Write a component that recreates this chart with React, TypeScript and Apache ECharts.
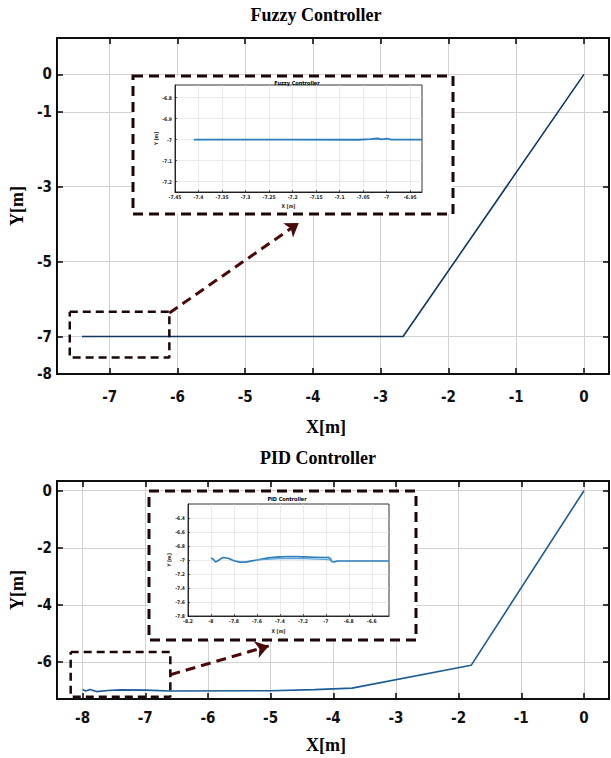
import React, { useEffect, useRef } from "react";
import * as echarts from "echarts";

// ---------- data ----------
const fuzzyPath: number[][] = [[-7.41, -7], [-2.67, -7], [0, 0]];
const fuzzyZoomPath: number[][] = [
  [-7.41, -7.0], [-7.2, -7.0], [-7.06, -7.001], [-7.035, -6.998], [-7.02, -6.995],
  [-7.01, -6.999], [-7.0, -6.996], [-6.99, -7.0], [-6.925, -7.0],
];
const pidPath: number[][] = [
  [-8.0, -6.97], [-7.95, -7.02], [-7.88, -6.97], [-7.78, -7.04], [-7.6, -7.0],
  [-7.4, -6.98], [-7.0, -6.99], [-6.6, -7.02], [-5.0, -7.01], [-4.3, -6.97],
  [-3.7, -6.92], [-1.8, -6.12], [0, 0],
];
const pidZoomPathA: number[][] = [
  [-8.0, -6.97], [-7.98, -6.99], [-7.96, -7.03], [-7.93, -7.0], [-7.9, -6.965],
  [-7.85, -6.975], [-7.8, -7.01], [-7.75, -7.03], [-7.7, -7.03], [-7.6, -7.0],
  [-7.5, -6.97], [-7.4, -6.955], [-7.3, -6.95], [-7.2, -6.955], [-7.1, -6.96],
  [-7.0, -6.965], [-6.98, -6.96], [-6.96, -6.99], [-6.95, -7.02], [-6.93, -7.03],
  [-6.9, -7.015], [-6.85, -7.015], [-6.45, -7.015],
];
const pidZoomPathB: number[][] = [
  [-7.6, -7.0], [-7.4, -6.98], [-7.2, -6.98], [-7.0, -6.99], [-6.97, -7.0],
  [-6.96, -6.97], [-6.94, -7.03],
];

const fuzzyXTicks = [-7, -6, -5, -4, -3, -2, -1, 0];
const fuzzyYTicks = [0, -1, -3, -5, -7];
const fuzzyYLabels = [0, -1, -3, -5, -7, -8];
const pidXTicks = [-8, -7, -6, -5, -4, -3, -2, -1, 0];
const pidYTicks = [0, -2, -4, -6];
const fuzzyInsetXTicks = [-7.45, -7.4, -7.35, -7.3, -7.25, -7.2, -7.15, -7.1, -7.05, -7, -6.95];
const fuzzyInsetYTicks = [-6.8, -6.9, -7, -7.1, -7.2];
const pidInsetXTicks = [-8.2, -8, -7.8, -7.6, -7.4, -7.2, -7, -6.8, -6.6];
const pidInsetYTicks = [-6.4, -6.6, -6.8, -7, -7.2, -7.4, -7.6, -7.8];

const fuzzyBox: number[][] = [[-7.59, -6.34], [-6.12, -7.56]];
const fuzzyArrow: number[][] = [[-6.12, -6.37], [-4.21, -3.97]];
const pidBox: number[][] = [[-8.19, -5.65], [-6.6, -7.22]];
const pidArrow: number[][] = [[-6.6, -6.45], [-5.03, -5.44]];

// ---------- styles ----------
const NARROW = "'Liberation Sans Narrow', 'DejaVu Sans Condensed', 'Liberation Sans', sans-serif";
const SERIF = "'Liberation Serif', 'DejaVu Serif', serif";
const GRID_COLOR = "#d2d2d2";
const DASH_COLOR = "#1c0606";
const fmt = (v: number) => String(+(+v).toFixed(2));

function boxLoop(b: number[][]) {
  const [[x0, y0], [x1, y1]] = b;
  return [[x0, y0], [x1, y0], [x1, y1], [x0, y1], [x0, y0]];
}

function mainX(gridIndex: number, min: number, max: number, ticks: number[], margin: number, nameGap: number) {
  return [
    {
      type: "value", gridIndex, min, max, position: "bottom",
      axisLine: { show: true, onZero: false, lineStyle: { color: "#000", width: 1.5 } },
      axisTick: { show: true, inside: true, length: 6, customValues: ticks, lineStyle: { color: "#000", width: 1.5 } },
      axisLabel: { show: true, customValues: ticks, margin, formatter: fmt, fontFamily: NARROW, fontSize: 15, fontWeight: "bold", color: "#111" },
      splitLine: { show: true, lineStyle: { color: GRID_COLOR, width: 1 } },
      name: "X[m]", nameLocation: "middle", nameGap,
      nameTextStyle: { fontFamily: SERIF, fontWeight: "bold", fontSize: 18, color: "#000", padding: [0, 14, 0, 0] },
    },
    {
      type: "value", gridIndex, min, max, position: "top",
      axisLine: { show: true, onZero: false, lineStyle: { color: "#000", width: 1.5 } },
      axisTick: { show: true, inside: true, length: 6, customValues: ticks, lineStyle: { color: "#000", width: 1.5 } },
      axisLabel: { show: false },
      splitLine: { show: false },
    },
  ];
}

function mainY(gridIndex: number, min: number, max: number, ticks: number[], labels: number[], nameGap: number) {
  return [
    {
      type: "value", gridIndex, min, max, position: "left",
      axisLine: { show: true, onZero: false, lineStyle: { color: "#000", width: 1.5 } },
      axisTick: { show: true, inside: true, length: 6, customValues: ticks, lineStyle: { color: "#000", width: 1.5 } },
      axisLabel: { show: true, customValues: labels, margin: 5, formatter: fmt, fontFamily: NARROW, fontSize: 15, fontWeight: "bold", color: "#111" },
      splitLine: { show: true, lineStyle: { color: GRID_COLOR, width: 1 } },
      name: "Y[m]", nameLocation: "middle", nameGap, nameRotate: 90,
      nameTextStyle: { fontFamily: SERIF, fontWeight: "bold", fontSize: 18, color: "#000" },
    },
    {
      type: "value", gridIndex, min, max, position: "right",
      axisLine: { show: true, onZero: false, lineStyle: { color: "#000", width: 1.5 } },
      axisTick: { show: true, inside: true, length: 6, customValues: ticks, lineStyle: { color: "#000", width: 1.5 } },
      axisLabel: { show: false },
      splitLine: { show: false },
    },
  ];
}

function insetX(gridIndex: number, min: number, max: number, ticks: number[], nameGap: number) {
  return {
    type: "value", gridIndex, min, max, position: "bottom", z: 11,
    axisLine: { show: true, onZero: false, lineStyle: { color: "#000", width: 0.8 } },
    axisTick: { show: true, inside: true, length: 2, customValues: ticks, lineStyle: { color: "#000", width: 0.6 } },
    axisLabel: { show: true, customValues: ticks, margin: 2, formatter: fmt, fontFamily: NARROW, fontSize: 5, fontWeight: "bold", color: "#222" },
    splitLine: { show: true, lineStyle: { color: "#dcdcdc", width: 0.6 } },
    name: "X [m]", nameLocation: "middle", nameGap,
    nameTextStyle: { fontFamily: NARROW, fontSize: 5, fontWeight: "bold", color: "#222", padding: [0, 20, 0, 0] },
  };
}

function insetY(gridIndex: number, min: number, max: number, ticks: number[], nameGap: number) {
  return {
    type: "value", gridIndex, min, max, position: "left", z: 11,
    axisLine: { show: true, onZero: false, lineStyle: { color: "#000", width: 0.8 } },
    axisTick: { show: true, inside: true, length: 2, customValues: ticks, lineStyle: { color: "#000", width: 0.6 } },
    axisLabel: { show: true, customValues: ticks, margin: 3, formatter: fmt, fontFamily: NARROW, fontSize: 5, fontWeight: "bold", color: "#222" },
    splitLine: { show: true, lineStyle: { color: "#dcdcdc", width: 0.6 } },
    name: "Y [m]", nameLocation: "middle", nameGap, nameRotate: 90,
    nameTextStyle: { fontFamily: NARROW, fontSize: 5, fontWeight: "bold", color: "#222" },
  };
}

function boxSeries(xi: number, yi: number, box: number[][], arrow: number[][]) {
  return {
    type: "line", xAxisIndex: xi, yAxisIndex: yi, z: 3,
    data: boxLoop(box), symbol: "none", silent: true,
    lineStyle: { color: DASH_COLOR, width: 2.5, type: [8, 5] },
    markLine: {
      silent: true, symbol: ["none", "arrow"], symbolSize: 13,
      label: { show: false }, animation: false,
      lineStyle: { color: "#4a0a0a", width: 3, type: [10, 6] },
      itemStyle: { color: "#8a0f0f" },
      data: [[{ coord: arrow[0] }, { coord: arrow[1] }]],
    },
  };
}

export default function App() {
  const ref = useRef<HTMLDivElement>(null);
  useEffect(() => {
    if (!ref.current) return;
    const chart = echarts.init(ref.current, undefined, { renderer: "svg" });
    const option: any = {
      animation: false,
      backgroundColor: "#fff",
      title: [
        { text: "Fuzzy Controller", left: 316, top: 6, textAlign: "center", padding: 0,
          textStyle: { fontFamily: SERIF, fontWeight: "bold", fontSize: 18, color: "#000" } },
        { text: "PID Controller", left: 318, top: 449, textAlign: "center", padding: 0,
          textStyle: { fontFamily: SERIF, fontWeight: "bold", fontSize: 18, color: "#000" } },
        { text: "Fuzzy Controller", left: 297, top: 80, textAlign: "center", padding: 0, z: 12,
          textStyle: { fontFamily: NARROW, fontWeight: "bold", fontSize: 5.5, color: "#000" } },
        { text: "PID Controller", left: 287, top: 496, textAlign: "center", padding: 0, z: 12,
          textStyle: { fontFamily: NARROW, fontWeight: "bold", fontSize: 5.5, color: "#000" } },
      ],
      grid: [
        { left: 54, top: 38, width: 555, height: 336, show: true, borderColor: "#000", borderWidth: 1.5 },
        { left: 175, top: 85, width: 247, height: 107, show: true, borderColor: "#000", borderWidth: 0.8, backgroundColor: "#fff", z: 10 },
        { left: 54, top: 481, width: 555, height: 218, show: true, borderColor: "#000", borderWidth: 1.5 },
        { left: 188, top: 504, width: 201, height: 112, show: true, borderColor: "#000", borderWidth: 0.8, backgroundColor: "#fff", z: 10 },
      ],
      xAxis: [
        ...mainX(0, -7.78, 0.37, fuzzyXTicks, 15, 44),
        insetX(1, -7.45, -6.925, fuzzyInsetXTicks, 11),
        ...mainX(2, -8.41, 0.4, pidXTicks, 11, 37),
        insetX(3, -8.2, -6.45, pidInsetXTicks, 12),
      ],
      yAxis: [
        ...mainY(0, -8, 0.97, fuzzyYTicks, fuzzyYLabels, 22),
        insetY(1, -7.25, -6.74, fuzzyInsetYTicks, 13),
        ...mainY(2, -7.3, 0.34, pidYTicks, pidYTicks, 22),
        insetY(3, -7.8, -6.2, pidInsetYTicks, 13),
      ],
      graphic: [
        { type: "rect", z: 5, shape: { x: 133, y: 76, width: 320, height: 138 },
          style: { fill: "#fff", stroke: DASH_COLOR, lineWidth: 3, lineDash: [10, 6] } },
        { type: "rect", z: 5, shape: { x: 149, y: 491, width: 267, height: 149 },
          style: { fill: "#fff", stroke: DASH_COLOR, lineWidth: 3, lineDash: [10, 6] } },
      ],
      series: [
        { type: "line", xAxisIndex: 0, yAxisIndex: 0, data: fuzzyPath, symbol: "none",
          lineStyle: { color: "#10375f", width: 1.6 } },
        boxSeries(0, 0, fuzzyBox, fuzzyArrow),
        { type: "line", xAxisIndex: 2, yAxisIndex: 2, z: 12, data: fuzzyZoomPath, symbol: "none",
          lineStyle: { color: "#2a7cbc", width: 1.8 } },
        { type: "line", xAxisIndex: 3, yAxisIndex: 3, data: pidPath, symbol: "none",
          lineStyle: { color: "#1b5c96", width: 1.6 } },
        boxSeries(3, 3, pidBox, pidArrow),
        { type: "line", xAxisIndex: 5, yAxisIndex: 5, z: 12, data: pidZoomPathA, symbol: "none",
          lineStyle: { color: "#2a7cbc", width: 1.6 } },
        { type: "line", xAxisIndex: 5, yAxisIndex: 5, z: 12, data: pidZoomPathB, symbol: "none",
          lineStyle: { color: "#5aa3d6", width: 1.2 } },
      ],
    };
    chart.setOption(option);
    return () => chart.dispose();
  }, []);
  return (
    <div
      ref={ref}
      style={{ position: "absolute", left: 0, top: 0, width: 611, height: 758, background: "#fff" }}
    />
  );
}
